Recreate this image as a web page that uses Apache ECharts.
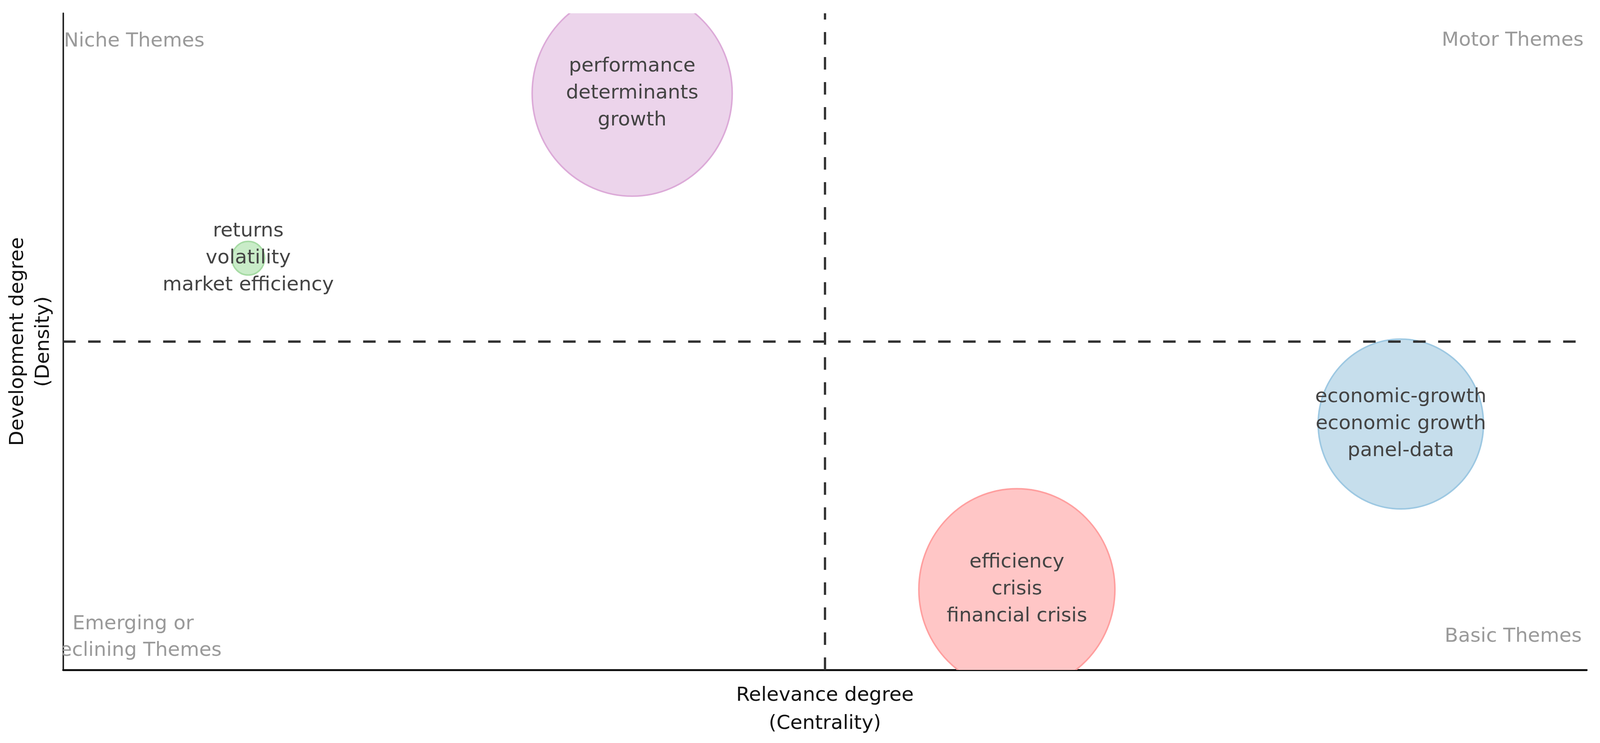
<!DOCTYPE html>
<html>
<head>
<meta charset="utf-8">
<script src="https://cdn.jsdelivr.net/npm/echarts@6/dist/echarts.min.js"></script>
<style>
html,body{margin:0;padding:0;background:#fff;overflow:hidden;}
#chart{width:100vw;height:100vh;}
</style>
</head>
<body>
<div id="chart"></div>
<script>
// ---- data ----
const themeLabels = [
  'performance\ndeterminants\ngrowth',
  'returns\nvolatility\nmarket efficiency',
  'economic-growth\neconomic growth\npanel-data',
  'efficiency\ncrisis\nfinancial crisis'
];
const centrality = [-0.253, -0.757, 0.756, 0.252];
const density    = [0.756, 0.254, -0.251, -0.755];
const occurrences = [277, 7.4, 189, 266];
const quadrantNames = ['Niche Themes', 'Motor Themes', 'Emerging or\nDeclining Themes', 'Basic Themes'];

// ---- styles ----
const SX = window.innerWidth / 4207;
const SY = window.innerHeight / 1901;
const px = v => v * SX;   // horizontal sizes
const py = v => v * SY;   // vertical sizes
const pf = v => v * Math.min(SX, SY); // font / stroke sizes
const fills   = ['#ecd4eb', '#c9ecc8', '#c6deec', '#ffc6c6'];
const strokes = ['#dcaad8', '#a6dba4', '#9dc8e2', '#ff9f9f'];
const FONT = '"DejaVu Sans", Verdana, sans-serif';
const FS = 52;
const SIZE_K = 31.6;
const AX = {xmin: -1, xmax: 1, ymin: -1, ymax: 1};

const bubbleData = centrality.map((x, i) => [x, density[i], occurrences[i]]);
const quadAnchors = [[AX.xmin, AX.ymax], [AX.xmax, AX.ymax], [AX.xmin, AX.ymin], [AX.xmax, AX.ymin]];
const quadLayout = [
  {dx: 2,   dy: 72,   align: 'left'},
  {dx: -8,  dy: 70,   align: 'right'},
  {dx: 184, dy: -83,  align: 'center'},
  {dx: -13, dy: -85,  align: 'right'}
];

const chart = echarts.init(document.getElementById('chart'), null, {renderer: 'canvas'});
chart.setOption({
  backgroundColor: '#fff',
  animation: false,
  grid: {left: px(166), right: px(35), top: py(34), bottom: py(187), containLabel: false},
  xAxis: {
    type: 'value', min: AX.xmin, max: AX.xmax,
    name: 'Relevance degree\n(Centrality)',
    nameLocation: 'middle', nameGap: py(30),
    nameTextStyle: {fontFamily: FONT, fontSize: pf(FS), color: '#111', lineHeight: py(72), verticalAlign: 'top'},
    axisLine: {show: true, onZero: false, lineStyle: {color: '#111', width: pf(5)}},
    axisTick: {show: false}, axisLabel: {show: false}, splitLine: {show: false}
  },
  yAxis: {
    type: 'value', min: AX.ymin, max: AX.ymax,
    name: 'Development degree\n(Density)',
    nameLocation: 'middle', nameGap: px(17), nameRotate: 90,
    nameTextStyle: {fontFamily: FONT, fontSize: pf(FS), color: '#111', lineHeight: px(68)},
    axisLine: {show: true, onZero: false, lineStyle: {color: '#222', width: pf(4)}},
    axisTick: {show: false}, axisLabel: {show: false}, splitLine: {show: false}
  },
  series: [
    {
      type: 'custom',
      z: 1,
      clip: true,
      data: quadAnchors,
      renderItem: function (params, api) {
        const p = api.coord([api.value(0), api.value(1)]);
        const L = quadLayout[params.dataIndex];
        return {
          type: 'text',
          x: p[0] + px(L.dx), y: p[1] + py(L.dy),
          style: {
            text: quadrantNames[params.dataIndex],
            fill: '#9a9a9a',
            font: pf(FS) + 'px ' + FONT,
            align: L.align, verticalAlign: 'middle', lineHeight: py(68)
          }
        };
      }
    },
    {
      type: 'custom',
      z: 2,
      clip: true,
      data: bubbleData,
      renderItem: function (params, api) {
        const c = api.coord([api.value(0), api.value(1)]);
        const d = Math.sqrt(api.value(2)) * SIZE_K;
        const i = params.dataIndex;
        return {
          type: 'group',
          children: [
            {type: 'ellipse', shape: {cx: c[0], cy: c[1], rx: px(d / 2), ry: py(d / 2)},
             style: {fill: fills[i], stroke: strokes[i], lineWidth: pf(4)}},
            {type: 'text', x: c[0], y: c[1],
             style: {text: themeLabels[i], fill: '#444', font: pf(FS) + 'px ' + FONT,
                     align: 'center', verticalAlign: 'middle', lineHeight: py(69)}}
          ]
        };
      }
    },
    {
      type: 'line',
      z: 5,
      data: [],
      silent: true,
      markLine: {
        silent: true,
        symbol: 'none',
        label: {show: false},
        lineStyle: {type: [py(32), py(32)], color: '#333', width: pf(6)},
        data: [{xAxis: 0}, {yAxis: 0}]
      }
    }
  ]
});
</script>
</body>
</html>
